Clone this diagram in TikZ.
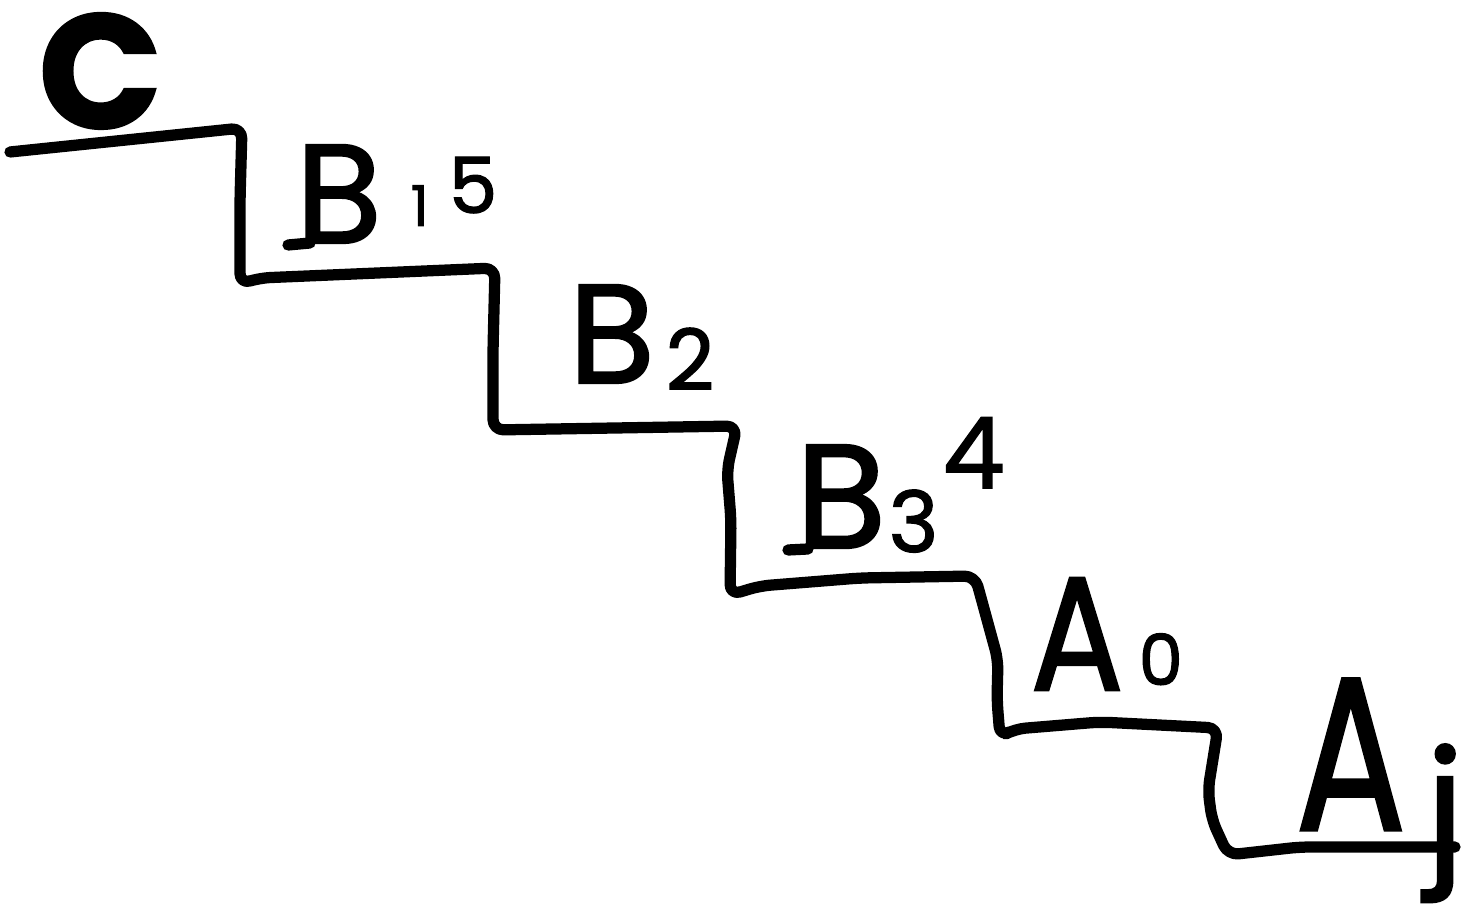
\documentclass[tikz,border=0pt]{standalone}
\usepackage{fontspec}
\setmainfont{Poppins}
\newfontfamily\handfont{Poppins}[FakeBold=1.6]
\begin{document}
\begin{tikzpicture}[x=0.01cm,y=-0.01cm,
  ink/.style={line width=3.2pt,line cap=round,line join=round,black},
  lbl/.style={inner sep=0pt,anchor=base west,text=black,font=\handfont},
]
\useasboundingbox (0,0) rectangle (1472,922);
% staircase
\draw[ink,rounded corners=3pt] (10,152) -- (242,128) -- (240,200) -- (240,284) -- (260,278) -- (495,268)
  -- (493,350) -- (493,430) -- (737,426) -- (727,470) -- (731,520) -- (730,595)
  -- (760,586) -- (860,578) -- (975,576) -- (983,605) -- (998,660) -- (997,700)
  -- (1000,737) -- (1015,729) -- (1100,722) -- (1218,728) -- (1208,790) -- (1212,820)
  -- (1228,855) -- (1300,847) -- (1455,847);
% letter feet
\draw[ink] (288,245) -- (310,243);
\draw[ink] (788,550) -- (808,549);
% labels
\node[lbl] (c) at (38,128) {\fontsize{46}{46}\selectfont\bfseries C};
\node[lbl] (b1) at (295,243) {\fontsize{40}{40}\selectfont B};
\node[lbl] (b1sub) at (410,226) {\fontsize{16}{16}\selectfont 1};
\node[lbl] (b1sup) at (448,213) {\fontsize{22}{22}\selectfont 5};
\node[lbl] (b2) at (568,383) {\fontsize{40}{40}\selectfont B};
\node[lbl] (b2sub) at (665,390) {\fontsize{24}{24}\selectfont 2};
\node[lbl] (b3) at (795,548) {\fontsize{42}{42}\selectfont B};
\node[lbl] (b3sub) at (888,552) {\fontsize{24}{24}\selectfont 3};
\node[lbl] (b3sup) at (942,488) {\fontsize{28}{28}\selectfont 4};
\node[lbl] (a0) at (1030,690) {\fontsize{46}{46}\selectfont\scalebox{0.85}[1]{A}};
\node[lbl] (a0sub) at (1138,685) {\fontsize{20}{20}\selectfont 0};
\node[lbl] (aj) at (1295,830) {\fontsize{62}{62}\selectfont\scalebox{0.75}[1]{A}};
\node[lbl] (ajsub) at (1425,862) {\fontsize{44}{44}\selectfont j};
\end{tikzpicture}
\end{document}
